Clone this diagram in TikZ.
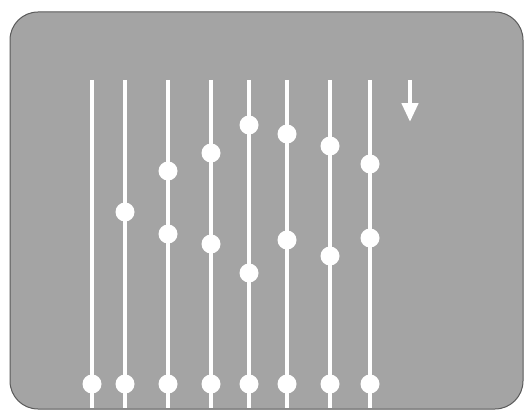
\documentclass[tikz,border=0pt]{standalone}
\usetikzlibrary{arrows.meta}
\definecolor{panelgray}{HTML}{A4A4A4}
\definecolor{paneledge}{HTML}{5A5A5A}
\tikzset{
  panel/.style={fill=panelgray, draw=paneledge, line width=1pt, rounded corners=28pt},
  wire/.style={draw=white, line width=4.5pt},
  bead/.style={circle, fill=white, inner sep=0pt, minimum size=19pt},
  downarrow/.style={draw=white, line width=4.5pt, -{Triangle[width=16pt,length=19pt]}}
}
\begin{document}
\begin{tikzpicture}[x=1pt,y=-1pt]
\useasboundingbox (0,0) rectangle (525,412);
\draw[panel] (10,12) rectangle (523,409);
% wires
\foreach \i/\x in {1/92,2/125,3/168,4/211,5/249,6/287,7/330,8/370}{
  \coordinate (t\i) at (\x,80);
  \coordinate (b\i) at (\x,408);
  \draw[wire] (t\i) -- (b\i);
  \node[bead] (d\i) at (\x,384) {};
}
% upper beads
\node[bead] (u2) at (125,212) {};
\node[bead] (u3a) at (168,171) {};
\node[bead] (u3b) at (168,234) {};
\node[bead] (u4a) at (211,153) {};
\node[bead] (u4b) at (211,244) {};
\node[bead] (u5a) at (249,125) {};
\node[bead] (u5b) at (249,273) {};
\node[bead] (u6a) at (287,134) {};
\node[bead] (u6b) at (287,240) {};
\node[bead] (u7a) at (330,146) {};
\node[bead] (u7b) at (330,256) {};
\node[bead] (u8a) at (370,164) {};
\node[bead] (u8b) at (370,238) {};
% arrow
\coordinate (as) at (410,80);
\coordinate (ae) at (410,122);
\draw[downarrow] (as) -- (ae);
\end{tikzpicture}
\end{document}
